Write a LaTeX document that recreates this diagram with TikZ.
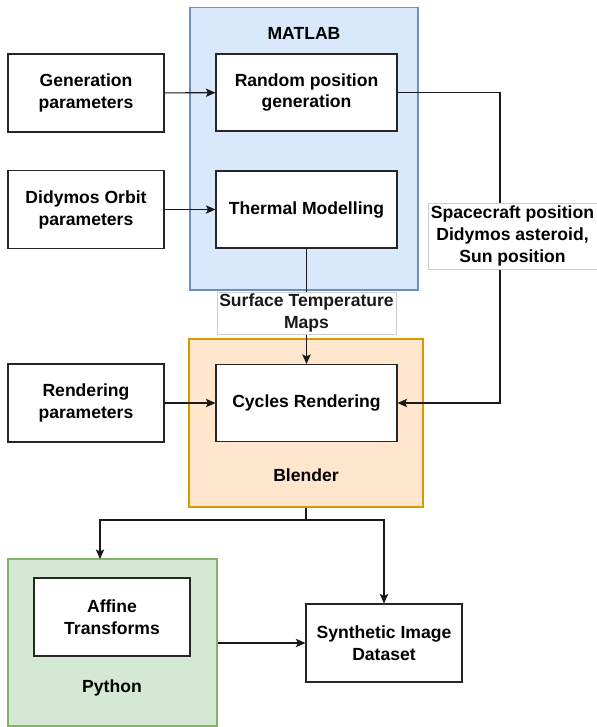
\documentclass[tikz,border=0pt]{standalone}
\usepackage{fontspec}
\setmainfont{Liberation Sans}
\usetikzlibrary{arrows.meta}

\definecolor{matlabfill}{HTML}{DAE8FC}
\definecolor{matlabline}{HTML}{6C8EBF}
\definecolor{blenderfill}{HTML}{FFE6CC}
\definecolor{blenderline}{HTML}{D79B00}
\definecolor{pythonfill}{HTML}{D5E8D4}
\definecolor{pythonline}{HTML}{82B366}
\definecolor{lblline}{HTML}{CCCCCC}

\tikzset{
  txt/.style={font=\bfseries\fontsize{10}{12.5}\selectfont, align=center},
  group/.style={draw, line width=0.6pt, minimum width=#1, inner sep=0pt},
  proc/.style={txt, draw=black!85, fill=white, line width=0.6pt,
    minimum width=3.12cm, minimum height=1.56cm, inner sep=0pt},
  tool/.style={proc, minimum width=3.62cm, minimum height=1.54cm},
  lbl/.style={txt, draw=lblline, fill=white, line width=0.4pt, inner sep=0pt},
  conn/.style={line width=0.6pt, black!90}
}

\begin{document}
\begin{tikzpicture}[x=0.02cm, y=-0.02cm, >={Stealth[length=5.5pt, width=4.8pt, inset=1.2pt]}]
  \useasboundingbox (0,0) rectangle (597,727);

  % Grupos
  \node[group=4.56cm, minimum height=5.66cm, fill=matlabfill, draw=matlabline] (matlab) at (304,148.5) {};
  \node[group=4.68cm, minimum height=3.36cm, fill=blenderfill, draw=blenderline] (blender) at (306,423) {};
  \node[group=4.18cm, minimum height=3.34cm, fill=pythonfill, draw=pythonline] (python) at (112.5,642.5) {};
  \node[txt] (matlabname) at (304,33) {MATLAB};
  \node[txt] (blendername) at (306,475) {Blender};
  \node[txt] (pythonname) at (112,688) {Python};

  % Blocos
  \node[proc] (gen) at (86,93) {Generation\\parameters};
  \node[tool] (random) at (306.5,92.5) {Random position\\generation};
  \node[proc] (orbit) at (86,209.5) {Didymos Orbit\\parameters};
  \node[tool] (thermal) at (306.5,209.5) {Thermal Modelling};
  \node[proc] (render) at (86,403) {Rendering\\parameters};
  \node[tool] (cycles) at (306.5,403) {Cycles Rendering};
  \node[proc] (affine) at (112,617) {Affine\\Transforms};
  \node[proc] (dataset) at (384,643) {Synthetic Image\\Dataset};

  % Pontos auxiliares
  \coordinate (turn) at (500,92.5);
  \coordinate (split) at (306,520);
  \coordinate (pyin) at (100,559);

  % Setas
  \draw[conn, ->] (gen) -- (random);
  \draw[conn, ->] (orbit) -- (thermal);
  \draw[conn, ->] (render) -- (cycles);
  \draw[conn, ->] (thermal) -- (cycles)
    node[lbl, pos=0.56, minimum width=3.58cm, minimum height=0.84cm] (maps) {Surface Temperature\\Maps};
  \draw[conn, ->] (random.east) -- (turn) |- (cycles.east);
  \node[lbl, minimum width=3.38cm, minimum height=1.32cm] (positions) at (512.5,236)
    {Spacecraft position\\Didymos asteroid,\\Sun position};
  \draw[conn] (blender.south) -- (split);
  \draw[conn, ->] (split) -| (pyin);
  \draw[conn, ->] (split) -| (dataset.north);
  \draw[conn, ->] (python.east |- dataset.west) -- (dataset.west);
\end{tikzpicture}
\end{document}
